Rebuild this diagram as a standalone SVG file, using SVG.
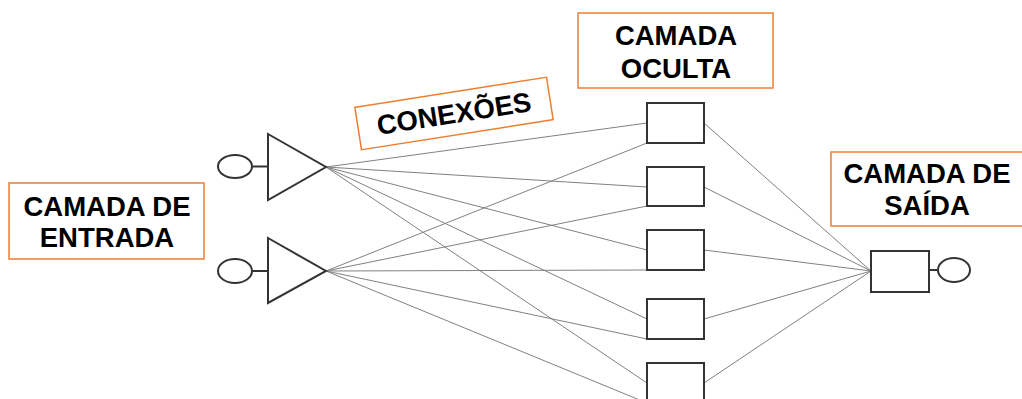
<svg xmlns="http://www.w3.org/2000/svg" width="1022" height="399" viewBox="0 0 1022 399">
<style>
.lbl{fill:#fff;stroke:#ED7D31;stroke-width:1.5}
.t{font-family:"Liberation Sans",Arial,sans-serif;font-weight:bold;font-size:27.5px;fill:#000;text-anchor:middle}
.s{fill:#fff;stroke:#333;stroke-width:2}
.c{stroke:#808080;stroke-width:1;fill:none}
</style>
<rect width="1022" height="399" fill="#fff"/>
<g id="connectors">
<line class="c" x1="326" y1="167" x2="647" y2="123"/>
<line class="c" x1="326" y1="167" x2="647" y2="187"/>
<line class="c" x1="326" y1="167" x2="647" y2="250"/>
<line class="c" x1="326" y1="167" x2="647" y2="319"/>
<line class="c" x1="326" y1="167" x2="647" y2="383"/>
<line class="c" x1="326" y1="271" x2="647" y2="143"/>
<line class="c" x1="326" y1="271" x2="647" y2="206"/>
<line class="c" x1="326" y1="271" x2="647" y2="270"/>
<line class="c" x1="326" y1="271" x2="647" y2="339"/>
<line class="c" x1="326" y1="271" x2="647" y2="403"/>
<line class="c" x1="704" y1="123" x2="871" y2="271"/>
<line class="c" x1="704" y1="187" x2="871" y2="271"/>
<line class="c" x1="704" y1="250" x2="871" y2="271"/>
<line class="c" x1="704" y1="319" x2="871" y2="271"/>
<line class="c" x1="704" y1="383" x2="871" y2="271"/>
</g>
<g id="input1">
<ellipse class="s" cx="235" cy="166.5" rx="17" ry="11.5"/>
<line class="s" x1="252" y1="166.5" x2="268" y2="166.5"/>
<polygon class="s" points="268,134 326,167 268,200"/>
</g>
<g id="input2">
<ellipse class="s" cx="235" cy="271" rx="17" ry="12"/>
<line class="s" x1="252" y1="271" x2="268" y2="271"/>
<polygon class="s" points="268,238 326,271 268,303"/>
</g>
<g id="hidden1"><rect class="s" x="647" y="103" width="57" height="40"/></g>
<g id="hidden2"><rect class="s" x="647" y="167" width="57" height="39"/></g>
<g id="hidden3"><rect class="s" x="647" y="230" width="57" height="40"/></g>
<g id="hidden4"><rect class="s" x="647" y="299" width="57" height="40"/></g>
<g id="hidden5"><rect class="s" x="647" y="363" width="57" height="40"/></g>
<g id="output">
<rect class="s" x="871" y="251" width="58" height="41"/>
<line class="s" x1="929" y1="270" x2="938" y2="270"/>
<ellipse class="s" cx="954" cy="270" rx="16" ry="12"/>
</g>
<g id="label-entrada">
<rect class="lbl" x="9" y="183" width="195" height="76"/>
<text class="t" x="107" y="216">CAMADA DE</text>
<text class="t" x="107" y="247">ENTRADA</text>
</g>
<g id="label-oculta">
<rect class="lbl" x="578" y="13" width="195" height="75"/>
<text class="t" x="676" y="45">CAMADA</text>
<text class="t" x="676" y="78">OCULTA</text>
</g>
<g id="label-saida">
<rect class="lbl" x="831" y="152" width="200" height="74"/>
<text class="t" x="927" y="183">CAMADA DE</text>
<text class="t" x="927" y="215">SAÍDA</text>
</g>
<g id="label-conexoes" transform="rotate(-8.9 454 113.5)">
<rect class="lbl" x="357" y="92" width="194" height="43"/>
<text class="t" x="454" y="123">CONEXÕES</text>
</g>
</svg>
